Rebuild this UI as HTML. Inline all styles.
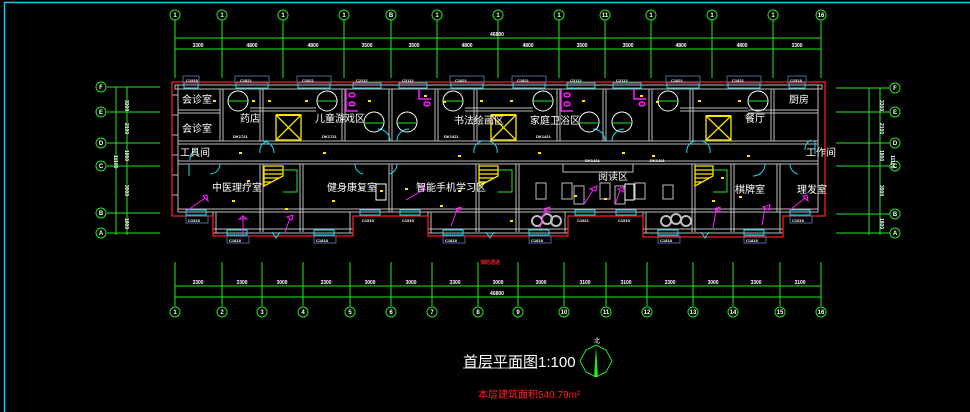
<!DOCTYPE html>
<html><head><meta charset="utf-8"><style>
html,body{margin:0;padding:0;background:#000;width:970px;height:412px;overflow:hidden}
svg{display:block}
text{font-family:"Liberation Sans","Noto Sans CJK SC",sans-serif}
.w{fill:#fff}
</style></head><body>
<svg width="970" height="412" viewBox="0 0 970 412" xmlns="http://www.w3.org/2000/svg">
<rect width="970" height="412" fill="#000"/>
<!-- frame -->
<line x1="4" y1="2.5" x2="970" y2="2.5" stroke="#19c8f0" stroke-width="1.5"/>
<line x1="4.5" y1="2" x2="4.5" y2="412" stroke="#19c8f0" stroke-width="1.5"/>

<!-- TOP AXES -->
<g stroke="#22e622" stroke-width="1" fill="none">
<line x1="175" y1="38" x2="821" y2="38"/>
<line x1="175" y1="49" x2="821" y2="49"/>
<g id="tv">
<line x1="175" y1="20" x2="175" y2="78"/><line x1="222" y1="20" x2="222" y2="78"/><line x1="283" y1="20" x2="283" y2="78"/><line x1="344" y1="20" x2="344" y2="78"/><line x1="391" y1="20" x2="391" y2="78"/><line x1="437" y1="20" x2="437" y2="78"/><line x1="498" y1="20" x2="498" y2="78"/><line x1="559" y1="20" x2="559" y2="78"/><line x1="605" y1="20" x2="605" y2="78"/><line x1="651" y1="20" x2="651" y2="78"/><line x1="712" y1="20" x2="712" y2="78"/><line x1="773" y1="20" x2="773" y2="78"/><line x1="821" y1="20" x2="821" y2="78"/>
</g>
<circle cx="175" cy="15" r="5"/><circle cx="222" cy="15" r="5"/><circle cx="283" cy="15" r="5"/><circle cx="344" cy="15" r="5"/><circle cx="391" cy="15" r="5"/><circle cx="437" cy="15" r="5"/><circle cx="498" cy="15" r="5"/><circle cx="559" cy="15" r="5"/><circle cx="605" cy="15" r="5"/><circle cx="651" cy="15" r="5"/><circle cx="712" cy="15" r="5"/><circle cx="773" cy="15" r="5"/><circle cx="821" cy="15" r="5"/>
<!-- bottom -->
<line x1="175" y1="286" x2="821" y2="286"/>
<line x1="175" y1="297" x2="821" y2="297"/>
<line x1="175" y1="262" x2="175" y2="306"/><line x1="222" y1="262" x2="222" y2="306"/><line x1="262" y1="262" x2="262" y2="306"/><line x1="303" y1="262" x2="303" y2="306"/><line x1="350" y1="262" x2="350" y2="306"/><line x1="391" y1="262" x2="391" y2="306"/><line x1="432" y1="262" x2="432" y2="306"/><line x1="478" y1="262" x2="478" y2="306"/><line x1="518" y1="262" x2="518" y2="306"/><line x1="564" y1="262" x2="564" y2="306"/><line x1="606" y1="262" x2="606" y2="306"/><line x1="647" y1="262" x2="647" y2="306"/><line x1="693" y1="262" x2="693" y2="306"/><line x1="733" y1="262" x2="733" y2="306"/><line x1="780" y1="262" x2="780" y2="306"/><line x1="821" y1="262" x2="821" y2="306"/>
<circle cx="175" cy="312" r="5"/><circle cx="222" cy="312" r="5"/><circle cx="262" cy="312" r="5"/><circle cx="303" cy="312" r="5"/><circle cx="350" cy="312" r="5"/><circle cx="391" cy="312" r="5"/><circle cx="432" cy="312" r="5"/><circle cx="478" cy="312" r="5"/><circle cx="518" cy="312" r="5"/><circle cx="564" cy="312" r="5"/><circle cx="606" cy="312" r="5"/><circle cx="647" cy="312" r="5"/><circle cx="693" cy="312" r="5"/><circle cx="733" cy="312" r="5"/><circle cx="780" cy="312" r="5"/><circle cx="821" cy="312" r="5"/>
<!-- left rows -->
<line x1="107" y1="87" x2="160" y2="87"/><line x1="107" y1="112" x2="160" y2="112"/><line x1="107" y1="143" x2="160" y2="143"/><line x1="107" y1="166" x2="160" y2="166"/><line x1="107" y1="213" x2="160" y2="213"/><line x1="107" y1="233" x2="160" y2="233"/>
<line x1="116" y1="87" x2="116" y2="235"/><line x1="127" y1="87" x2="127" y2="235"/>
<circle cx="101" cy="87" r="5"/><circle cx="101" cy="112" r="5"/><circle cx="101" cy="143" r="5"/><circle cx="101" cy="166" r="5"/><circle cx="101" cy="213" r="5"/><circle cx="101" cy="233" r="5"/>
<!-- right rows -->
<line x1="836" y1="88" x2="890" y2="88"/><line x1="836" y1="112" x2="890" y2="112"/><line x1="836" y1="143" x2="890" y2="143"/><line x1="836" y1="166" x2="890" y2="166"/><line x1="836" y1="214" x2="890" y2="214"/><line x1="836" y1="233" x2="890" y2="233"/>
<line x1="869" y1="88" x2="869" y2="235"/><line x1="880" y1="88" x2="880" y2="235"/>
<circle cx="895" cy="88" r="5"/><circle cx="895" cy="112" r="5"/><circle cx="895" cy="143" r="5"/><circle cx="895" cy="166" r="5"/><circle cx="895" cy="214" r="5"/><circle cx="895" cy="233" r="5"/>
<!-- compass -->
<polygon points="596,345 606,350 612,361 606,372 596,377 586,372 580,361 586,350"/>
</g>
<polygon points="596,346 598,377 594,377" fill="#22e622"/>
<g class="w" font-size="6" text-anchor="middle" font-weight="bold">
<text x="175" y="17">1</text><text x="222" y="17">1</text><text x="283" y="17">1</text><text x="344" y="17">1</text><text x="391" y="17">B</text><text x="437" y="17">1</text><text x="498" y="17">1</text><text x="559" y="17">1</text><text x="605" y="17">11</text><text x="651" y="17">1</text><text x="712" y="17">1</text><text x="773" y="17">1</text><text x="821" y="17">16</text>
<text x="175" y="314">1</text><text x="222" y="314">2</text><text x="262" y="314">3</text><text x="303" y="314">4</text><text x="350" y="314">5</text><text x="391" y="314">6</text><text x="432" y="314">7</text><text x="478" y="314">8</text><text x="518" y="314">9</text><text x="564" y="314">10</text><text x="606" y="314">11</text><text x="647" y="314">12</text><text x="693" y="314">13</text><text x="733" y="314">14</text><text x="780" y="314">15</text><text x="821" y="314">16</text>
<text x="101" y="89">F</text><text x="101" y="114">E</text><text x="101" y="145">D</text><text x="101" y="168">C</text><text x="101" y="215">B</text><text x="101" y="235">A</text>
<text x="895" y="90">F</text><text x="895" y="114">E</text><text x="895" y="145">D</text><text x="895" y="168">C</text><text x="895" y="216">B</text><text x="895" y="235">A</text>
<text x="497" y="36" font-size="5">46800</text>
<text x="198" y="47" font-size="5">3300</text><text x="252" y="47" font-size="5">4800</text><text x="313" y="47" font-size="5">4800</text><text x="367" y="47" font-size="5">3500</text><text x="414" y="47" font-size="5">3500</text><text x="467" y="47" font-size="5">4800</text><text x="528" y="47" font-size="5">4800</text><text x="582" y="47" font-size="5">3500</text><text x="628" y="47" font-size="5">3500</text><text x="681" y="47" font-size="5">4800</text><text x="742" y="47" font-size="5">4800</text><text x="797" y="47" font-size="5">3300</text>
<text x="198" y="284" font-size="5">3300</text><text x="242" y="284" font-size="5">3300</text><text x="282" y="284" font-size="5">3000</text><text x="326" y="284" font-size="5">3300</text><text x="370" y="284" font-size="5">3000</text><text x="411" y="284" font-size="5">3000</text><text x="455" y="284" font-size="5">3300</text><text x="498" y="284" font-size="5">3000</text><text x="541" y="284" font-size="5">3000</text><text x="585" y="284" font-size="5">3100</text><text x="626" y="284" font-size="5">3100</text><text x="670" y="284" font-size="5">3300</text><text x="713" y="284" font-size="5">3000</text><text x="756" y="284" font-size="5">3300</text><text x="800" y="284" font-size="5">3100</text>
<text x="497" y="295" font-size="5">46800</text>
</g>
<g class="w" font-size="5" font-weight="bold">
<text transform="translate(125,100) rotate(90)">3300</text><text transform="translate(125,123) rotate(90)">2100</text><text transform="translate(125,150) rotate(90)">1800</text><text transform="translate(125,185) rotate(90)">3900</text><text transform="translate(125,218) rotate(90)">1800</text><text transform="translate(114,155) rotate(90)">11100</text>
<text transform="translate(880,100) rotate(90)">3300</text><text transform="translate(880,123) rotate(90)">2100</text><text transform="translate(880,150) rotate(90)">1800</text><text transform="translate(880,185) rotate(90)">3900</text><text transform="translate(880,218) rotate(90)">1800</text><text transform="translate(891,155) rotate(90)">11100</text>
</g>

<!-- WALLS (gray) -->
<g stroke="#bdbdbd" stroke-width="1" fill="none">
<rect x="175" y="85" width="647" height="4"/>
<line x1="178" y1="85" x2="178" y2="212"/><line x1="818" y1="85" x2="818" y2="212"/>
<line x1="178" y1="141" x2="818" y2="141"/><line x1="178" y1="144" x2="818" y2="144"/>
<line x1="178" y1="161" x2="818" y2="161"/><line x1="178" y1="164" x2="818" y2="164"/>
<line x1="178" y1="110" x2="220" y2="110"/><line x1="178" y1="113" x2="220" y2="113"/>
<line x1="748" y1="110" x2="818" y2="110"/><line x1="748" y1="113" x2="818" y2="113"/>
<line x1="250" y1="108" x2="316" y2="108"/><line x1="250" y1="111" x2="316" y2="111"/>
<line x1="465" y1="108" x2="533" y2="108"/><line x1="465" y1="111" x2="533" y2="111"/>
<line x1="680" y1="108" x2="748" y2="108"/><line x1="680" y1="111" x2="748" y2="111"/>
<!-- verticals upper -->
<line x1="220" y1="89" x2="220" y2="141"/><line x1="223" y1="89" x2="223" y2="141"/>
<line x1="260" y1="89" x2="260" y2="141"/><line x1="263" y1="89" x2="263" y2="141"/>
<line x1="342" y1="89" x2="342" y2="141"/><line x1="345" y1="89" x2="345" y2="141"/>
<line x1="389" y1="89" x2="389" y2="141"/><line x1="392" y1="89" x2="392" y2="141"/>
<line x1="435" y1="89" x2="435" y2="141"/><line x1="438" y1="89" x2="438" y2="141"/>
<line x1="474" y1="89" x2="474" y2="141"/><line x1="477" y1="89" x2="477" y2="141"/>
<line x1="557" y1="89" x2="557" y2="141"/><line x1="560" y1="89" x2="560" y2="141"/>
<line x1="603" y1="89" x2="603" y2="141"/><line x1="606" y1="89" x2="606" y2="141"/>
<line x1="649" y1="89" x2="649" y2="141"/><line x1="652" y1="89" x2="652" y2="141"/>
<line x1="690" y1="89" x2="690" y2="141"/><line x1="693" y1="89" x2="693" y2="141"/>
<line x1="771" y1="89" x2="771" y2="141"/><line x1="774" y1="89" x2="774" y2="141"/>
<!-- verticals lower -->
<line x1="260" y1="164" x2="260" y2="232"/><line x1="263" y1="164" x2="263" y2="232"/>
<line x1="300" y1="164" x2="300" y2="232"/><line x1="303" y1="164" x2="303" y2="232"/>
<line x1="389" y1="164" x2="389" y2="212"/><line x1="392" y1="164" x2="392" y2="212"/>
<line x1="476" y1="164" x2="476" y2="232"/><line x1="479" y1="164" x2="479" y2="232"/>
<line x1="516" y1="164" x2="516" y2="232"/><line x1="519" y1="164" x2="519" y2="232"/>
<line x1="692" y1="164" x2="692" y2="232"/><line x1="695" y1="164" x2="695" y2="232"/>
<line x1="731" y1="164" x2="731" y2="232"/><line x1="734" y1="164" x2="734" y2="232"/>
<line x1="777" y1="164" x2="777" y2="212"/><line x1="780" y1="164" x2="780" y2="212"/>
<!-- bottom walls -->
<line x1="178" y1="209" x2="818" y2="209"/><line x1="178" y1="212" x2="818" y2="212"/>
<rect x="213" y="229" width="140" height="4"/><rect x="428" y="229" width="140" height="4"/><rect x="643" y="229" width="140" height="4"/>
<line x1="213" y1="212" x2="213" y2="233"/><line x1="216" y1="212" x2="216" y2="233"/><line x1="350" y1="212" x2="350" y2="233"/>
<line x1="428" y1="212" x2="428" y2="233"/><line x1="431" y1="212" x2="431" y2="233"/><line x1="565" y1="212" x2="565" y2="233"/>
<line x1="643" y1="212" x2="643" y2="233"/><line x1="646" y1="212" x2="646" y2="233"/><line x1="780" y1="212" x2="780" y2="233"/>
<!-- furniture -->
<rect x="536" y="183" width="10" height="16"/><rect x="562" y="183" width="10" height="16"/><rect x="574" y="186" width="10" height="18"/><rect x="600" y="183" width="10" height="16"/><rect x="615" y="186" width="10" height="18"/><rect x="635" y="183" width="10" height="16"/><rect x="663" y="185" width="10" height="14"/>
<rect x="563" y="164" width="70" height="8"/>
<line x1="172" y1="95" x2="178" y2="95"/><line x1="172" y1="115" x2="178" y2="115"/><line x1="172" y1="135" x2="178" y2="135"/><line x1="172" y1="155" x2="178" y2="155"/><line x1="172" y1="175" x2="178" y2="175"/><line x1="172" y1="195" x2="178" y2="195"/>
</g>
<line x1="430" y1="164" x2="488" y2="164" stroke="#bdbdbd" stroke-dasharray="4,2"/>
<g stroke="#bdbdbd" stroke-width="2" fill="none">
<circle cx="537" cy="221" r="5"/><circle cx="547" cy="219" r="5"/><circle cx="556" cy="221" r="5"/>
<circle cx="666" cy="221" r="5"/><circle cx="676" cy="219" r="5"/><circle cx="686" cy="221" r="5"/>
</g>

<!-- RED outline -->
<polyline points="172,82 825,82 825,216 783,216 783,237 643,237 643,216 568,216 568,236 428,236 428,216 353,216 353,236 213,236 213,216 172,216 172,82" fill="none" stroke="#ff1a1a" stroke-width="1.3"/>

<!-- windows cyan -->
<g fill="none" stroke="#19dcf0" stroke-width="1">
<rect x="184" y="83" width="14" height="5"/><rect x="236" y="83" width="32" height="5"/><rect x="298" y="83" width="32" height="5"/><rect x="353" y="83" width="28" height="5"/><rect x="399" y="83" width="28" height="5"/><rect x="451" y="83" width="32" height="5"/><rect x="513" y="83" width="32" height="5"/><rect x="567" y="83" width="28" height="5"/><rect x="613" y="83" width="28" height="5"/><rect x="667" y="83" width="32" height="5"/><rect x="728" y="83" width="32" height="5"/><rect x="789" y="83" width="16" height="5"/>
<rect x="186" y="210" width="20" height="5"/><rect x="227" y="230" width="20" height="5"/><rect x="314" y="230" width="20" height="5"/><rect x="360" y="210" width="20" height="5"/><rect x="400" y="210" width="20" height="5"/><rect x="443" y="230" width="20" height="5"/><rect x="529" y="230" width="20" height="5"/><rect x="575" y="210" width="20" height="5"/><rect x="616" y="210" width="20" height="5"/><rect x="658" y="230" width="20" height="5"/><rect x="744" y="230" width="20" height="5"/><rect x="790" y="210" width="20" height="5"/>
<!-- doors -->
<path d="M262,141 a12,12 0 0 1 12,12"/><path d="M270,141 a10,10 0 0 0 -10,12"/>
<path d="M487,141 a10,10 0 0 1 10,12"/><path d="M484,141 a10,10 0 0 0 -10,12"/>
<path d="M700,141 a10,10 0 0 1 10,12"/><path d="M697,141 a10,10 0 0 0 -10,12"/>
<path d="M390,141 a12,12 0 0 0 -12,-12"/><path d="M397,141 a12,12 0 0 1 12,-12"/>
<path d="M605,141 a12,12 0 0 0 -12,-12"/><path d="M612,141 a12,12 0 0 1 12,-12"/>
<path d="M220,164 a10,10 0 0 1 -10,10"/><path d="M355,164 a10,10 0 0 0 8,10"/><path d="M397,164 a10,10 0 0 1 -8,10"/>
<path d="M765,164 a12,12 0 0 1 -12,12"/><path d="M790,164 a10,10 0 0 0 8,10"/>
<path d="M190,160 a10,10 0 0 1 6,-10"/><path d="M805,150 a10,10 0 0 1 6,-10"/>
<line x1="189" y1="176" x2="189" y2="164"/><line x1="815" y1="140" x2="815" y2="154"/>
<path d="M486,232 l4,6 l4,-6"/><path d="M272,232 l4,6 l4,-6"/><path d="M701,232 l4,6 l4,-6"/>
</g>
<g fill="#fff" font-size="4" font-weight="bold">
<text x="186" y="82">C1518</text><text x="240" y="82">C1821</text><text x="302" y="82">C1821</text><text x="356" y="82">C2112</text><text x="402" y="82">C2112</text><text x="455" y="82">C1821</text><text x="517" y="82">C1821</text><text x="570" y="82">C2112</text><text x="616" y="82">C2112</text><text x="671" y="82">C1821</text><text x="732" y="82">C1821</text><text x="790" y="82">C1518</text>
<text x="188" y="222">C1515</text><text x="229" y="242">C1818</text><text x="316" y="242">C1818</text><text x="362" y="222">C1515</text><text x="402" y="222">C1515</text><text x="445" y="242">C1818</text><text x="531" y="242">C1818</text><text x="577" y="222">C1521</text><text x="618" y="222">C1515</text><text x="660" y="242">C1818</text><text x="746" y="242">C1818</text><text x="792" y="222">C1515</text>
</g>
<g stroke="#4a6a9a" fill="none"><rect x="183" y="76" width="16" height="7"/><rect x="235" y="76" width="34" height="7"/><rect x="297" y="76" width="34" height="7"/><rect x="450" y="76" width="34" height="7"/><rect x="512" y="76" width="34" height="7"/><rect x="666" y="76" width="34" height="7"/><rect x="727" y="76" width="34" height="7"/><rect x="788" y="76" width="18" height="7"/>
<rect x="186" y="216" width="22" height="7"/><rect x="227" y="236" width="22" height="7"/><rect x="314" y="236" width="22" height="7"/><rect x="443" y="236" width="22" height="7"/><rect x="529" y="236" width="22" height="7"/><rect x="658" y="236" width="22" height="7"/><rect x="744" y="236" width="22" height="7"/><rect x="790" y="216" width="22" height="7"/></g>

<!-- elevators -->
<g stroke="#ffe600" fill="none" stroke-width="1.3">
<rect x="276" y="115" width="25" height="25"/><line x1="276" y1="115" x2="301" y2="140"/><line x1="301" y1="115" x2="276" y2="140"/>
<rect x="491" y="115" width="25" height="25"/><line x1="491" y1="115" x2="516" y2="140"/><line x1="516" y1="115" x2="491" y2="140"/>
<rect x="706" y="116" width="25" height="24"/><line x1="706" y1="116" x2="731" y2="140"/><line x1="731" y1="116" x2="706" y2="140"/>
<!-- stairs -->
<path d="M264,166 h19 v10 l-19,10 z M264,170 h19 M264,174 h19 M264,178 h15 M264,182 h8"/>
<path d="M479,166 h19 v10 l-19,10 z M479,170 h19 M479,174 h19 M479,178 h15 M479,182 h8"/>
<path d="M695,166 h18 v10 l-18,10 z M695,170 h18 M695,174 h18 M695,178 h14 M695,182 h8"/>
</g>
<g stroke="#22e622" fill="none"><path d="M283,170 h14 v22 h-14"/><path d="M498,170 h14 v22 h-14"/><path d="M713,170 h14 v22 h-14"/></g>
<rect x="276" y="114" width="25" height="2" fill="#ffe600"/><rect x="491" y="114" width="25" height="2" fill="#ffe600"/><rect x="706" y="115" width="25" height="2" fill="#ffe600"/>

<!-- tables -->
<g stroke="#fff" fill="none">
<circle cx="238" cy="101" r="10"/><circle cx="327" cy="101" r="10"/><circle cx="374" cy="122" r="10"/><circle cx="407" cy="122" r="10"/><circle cx="453" cy="101" r="10"/><circle cx="543" cy="101" r="10"/><circle cx="589" cy="122" r="10"/><circle cx="622" cy="122" r="10"/><circle cx="668" cy="101" r="10"/><circle cx="758" cy="101" r="10"/>
<rect x="376" y="184" width="10" height="16"/><rect x="537" y="184" width="10" height="16" stroke="none"/><rect x="625" y="184" width="9" height="16"/>
</g>
<g stroke="#22e622"><line x1="228" y1="101" x2="248" y2="101"/><line x1="317" y1="101" x2="337" y2="101"/><line x1="364" y1="123" x2="384" y2="123"/><line x1="397" y1="123" x2="417" y2="123"/><line x1="443" y1="101" x2="463" y2="101"/><line x1="533" y1="101" x2="553" y2="101"/><line x1="579" y1="123" x2="599" y2="123"/><line x1="612" y1="123" x2="632" y2="123"/><line x1="658" y1="101" x2="678" y2="101"/><line x1="748" y1="101" x2="768" y2="101"/></g>

<!-- magenta toilets -->
<g stroke="#ff1aff" fill="none" stroke-width="1.5">
<path d="M346,89 v22 h12"/><ellipse cx="352" cy="95" rx="3" ry="2"/><ellipse cx="352" cy="104" rx="3" ry="2"/>
<path d="M419,89 v10 h12"/><ellipse cx="427" cy="104" rx="3" ry="2"/>
<path d="M561,89 v22 h12"/><ellipse cx="567" cy="95" rx="3" ry="2"/><ellipse cx="567" cy="104" rx="3" ry="2"/>
<path d="M634,89 v10 h12"/><ellipse cx="642" cy="104" rx="3" ry="2"/>
</g>
<g stroke="#ff1aff" stroke-width="1" fill="none">
<line x1="188" y1="210" x2="205" y2="198"/><path d="M203,196 l5,5 l-1,-6 z"/>
<line x1="243" y1="235" x2="243" y2="215"/><path d="M239,219 h8 l-4,-3 z"/>
<line x1="285" y1="232" x2="290" y2="218"/><path d="M287,217 l5,3 l1,-5 z"/>
<line x1="406" y1="200" x2="423" y2="190"/><path d="M420,187 l5,3 l-1,-5 z"/>
<line x1="451" y1="226" x2="457" y2="210"/><path d="M455,209 l5,3 l1,-5 z"/>
<line x1="540" y1="228" x2="545" y2="210"/><path d="M543,209 l6,3 l1,-5 z"/>
<line x1="585" y1="203" x2="593" y2="190"/><path d="M590,189 l6,2 l1,-5 z"/>
<line x1="615" y1="205" x2="620" y2="190"/><path d="M618,189 l5,3 l1,-5 z"/>
<line x1="762" y1="225" x2="765" y2="208"/><path d="M763,207 l6,3 l1,-5 z"/>
<line x1="790" y1="210" x2="805" y2="198"/><path d="M803,196 l5,5 l-1,-6 z"/>
<line x1="713" y1="228" x2="716" y2="210"/><path d="M714,209 l6,3 l0,-5 z"/>
</g>

<!-- yellow dots -->
<g fill="#ffe600">
<rect x="213" y="100" width="3" height="2"/><rect x="252" y="100" width="3" height="2"/><rect x="268" y="100" width="3" height="2"/><rect x="305" y="100" width="3" height="2"/><rect x="368" y="100" width="3" height="2"/><rect x="424" y="95" width="3" height="2"/><rect x="443" y="101" width="3" height="2"/><rect x="480" y="100" width="3" height="2"/><rect x="510" y="100" width="3" height="2"/><rect x="582" y="100" width="3" height="2"/><rect x="640" y="95" width="3" height="2"/><rect x="656" y="101" width="3" height="2"/><rect x="698" y="100" width="3" height="2"/><rect x="738" y="100" width="3" height="2"/>
<rect x="239" y="152" width="3" height="2"/><rect x="323" y="152" width="3" height="2"/><rect x="458" y="155" width="3" height="2"/><rect x="538" y="152" width="3" height="2"/><rect x="622" y="152" width="3" height="2"/><rect x="652" y="155" width="3" height="2"/><rect x="747" y="155" width="3" height="2"/>
<rect x="247" y="180" width="3" height="2"/><rect x="380" y="190" width="3" height="2"/><rect x="405" y="188" width="3" height="2"/><rect x="458" y="190" width="3" height="2"/><rect x="232" y="200" width="3" height="2"/><rect x="332" y="200" width="3" height="2"/><rect x="440" y="205" width="3" height="2"/><rect x="574" y="195" width="3" height="2"/><rect x="604" y="198" width="3" height="2"/><rect x="721" y="177" width="3" height="2"/><rect x="739" y="196" width="3" height="2"/><rect x="712" y="200" width="3" height="2"/><rect x="285" y="208" width="3" height="2"/><rect x="510" y="220" width="3" height="2"/>
</g>

<!-- room labels -->
<g class="w" font-size="10">
<text x="182" y="103">会诊室</text><text x="182" y="132">会诊室</text><text x="240" y="122">药店</text><text x="315" y="122">儿童游戏区</text><text x="454" y="124">书法绘画区</text><text x="530" y="124">家庭卫浴区</text><text x="745" y="122">餐厅</text><text x="789" y="103">厨房</text>
<text x="180" y="156">工具间</text><text x="806" y="156">工作间</text>
<text x="212" y="191">中医理疗室</text><text x="327" y="191">健身康复室</text><text x="416" y="191">智能手机学习区</text><text x="598" y="180">阅读区</text><text x="735" y="193">棋牌室</text><text x="797" y="193">理发室</text>
</g>
<g class="w" font-size="4" font-weight="bold">
<text x="233" y="138">DK1721</text><text x="322" y="138">DK1721</text><text x="444" y="138">DK1421</text><text x="536" y="138">DK1421</text><text x="585" y="162">DK1421</text><text x="650" y="162">DK1421</text>
</g>
<text x="490" y="264" font-size="5" fill="#ff2020" text-anchor="middle" font-weight="bold">消防通道</text>

<!-- title -->
<text x="463" y="367" font-size="15" fill="#fff" font-family="Liberation Sans,Noto Sans CJK SC,sans-serif">首层平面图1:100</text>
<line x1="463" y1="368" x2="537" y2="368" stroke="#fff" stroke-width="0.8"/>
<text x="594" y="343" font-size="6" fill="#fff">北</text>
<text x="478" y="398" font-size="10" fill="#ff2020">本层建筑面积540.79m²</text>
</svg>
</body></html>
